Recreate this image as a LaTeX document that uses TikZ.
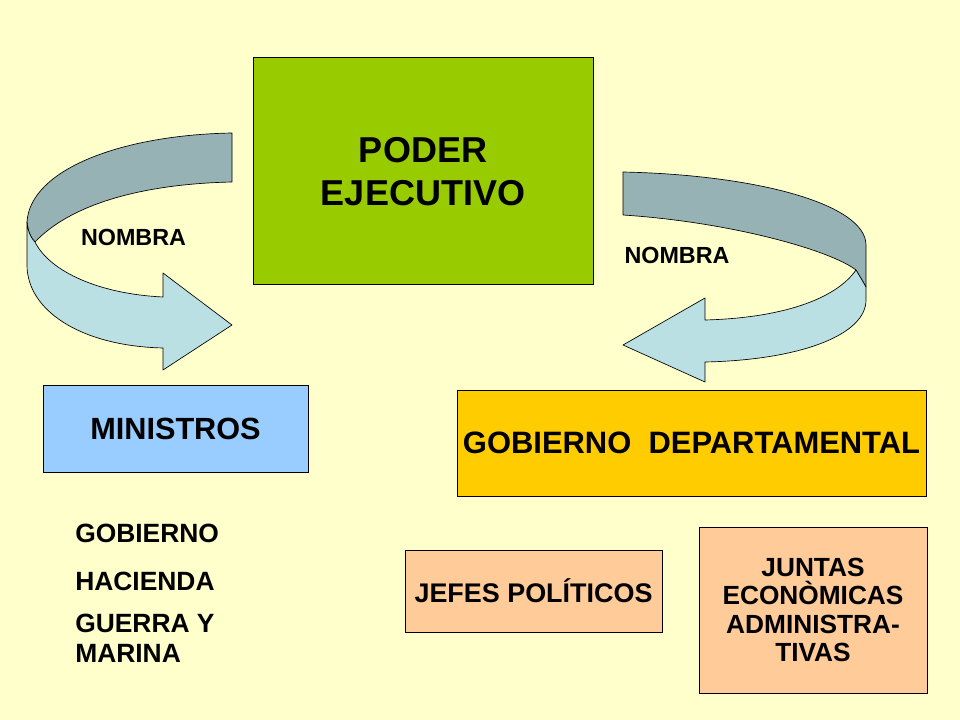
\documentclass[tikz,border=0pt]{standalone}
\usepackage{fontspec}
\setmainfont{Liberation Sans}
\definecolor{bgyel}{RGB}{255,255,204}
\definecolor{pgreen}{RGB}{153,204,0}
\definecolor{pblue}{RGB}{153,204,255}
\definecolor{pgold}{RGB}{255,204,0}
\definecolor{ppeach}{RGB}{255,204,153}
\definecolor{dkband}{RGB}{151,178,181}
\definecolor{ltband}{RGB}{187,224,228}
\begin{document}
\begin{tikzpicture}[x=0.75pt, y=-0.75pt,
  box/.style={draw, line width=0.75pt, rectangle, inner sep=0pt, align=center, font=\bfseries},
  band/.style={draw, line width=0.5pt, line join=round},
  lbl/.style={inner sep=0pt, font=\bfseries}]
\fill[bgyel] (0,0) rectangle (960,720);
\useasboundingbox (0,0) rectangle (960,720);
\node[box, fill=pgreen, minimum width=255pt, minimum height=170.25pt, font=\bfseries\fontsize{27}{32}\selectfont] (pod) at (423,171.5){PODER\\EJECUTIVO};
\node[box, fill=pblue, minimum width=198.75pt, minimum height=65.25pt, font=\bfseries\fontsize{23}{26}\selectfont] (min) at (175.5,428.5){MINISTROS};
\node[box, fill=pgold, minimum width=351.75pt, minimum height=79.5pt, font=\bfseries\fontsize{23.2}{26}\selectfont] (gdep) at (691.5,443){GOBIERNO\ \ DEPARTAMENTAL};
\node[box, fill=ppeach, minimum width=192.75pt, minimum height=61.5pt, font=\bfseries\fontsize{20.2}{22}\selectfont] (jef) at (533.5,591){JEFES POL\'ITICOS};
\node[box, fill=ppeach, minimum width=171pt, minimum height=124.5pt, font=\bfseries\fontsize{19.7}{21.4}\selectfont] (jun) at (813,610){JUNTAS\\ECON\`OMICAS\\ADMINISTRA-\\TIVAS};
% lista de ministerios
\node[lbl, anchor=base west, font=\bfseries\fontsize{19.8}{22.5}\selectfont] (mgob) at (75,542){GOBIERNO};
\node[lbl, anchor=base west, font=\bfseries\fontsize{19.8}{22.5}\selectfont] (mhac) at (75,590){HACIENDA};
\node[lbl, anchor=north west, align=left, font=\bfseries\fontsize{19.8}{22.5}\selectfont] (mgue) at (75,614){GUERRA Y\\MARINA};
% flecha izquierda
\draw[band, fill=dkband] (232,133) .. controls (120,135) and (30,170) .. (27,222) .. controls (28,232) and (31,238) .. (35,242) .. controls (70,205) and (140,184) .. (232,182) -- cycle;
\draw[band, fill=ltband] (35,242) .. controls (50,272) and (100,294) .. (163,297) -- (163,273) -- (232,325) -- (163,370) -- (163,348) .. controls (80,346) and (27,310) .. (27,265) -- (27,222) .. controls (28,232) and (31,238) .. (35,242) -- cycle;
\node[lbl, font=\bfseries\fontsize{17.5}{20}\selectfont] (nom1) at (133.5,237.5){NOMBRA};
% flecha derecha
\draw[band, fill=dkband] (623,172) .. controls (760,175) and (866,205) .. (866,245) -- (866,287) .. controls (862,280) and (859,275) .. (856,270) .. controls (830,250) and (730,222) .. (623,215) -- cycle;
\draw[band, fill=ltband] (856,270) .. controls (835,300) and (780,318) .. (705,320) -- (705,298) -- (623,345) -- (705,382) -- (705,362) .. controls (800,360) and (866,335) .. (866,300) -- (866,287) .. controls (862,280) and (859,275) .. (856,270) -- cycle;
\node[lbl, font=\bfseries\fontsize{17.5}{20}\selectfont] (nom2) at (677,255){NOMBRA};

\end{tikzpicture}
\end{document}
